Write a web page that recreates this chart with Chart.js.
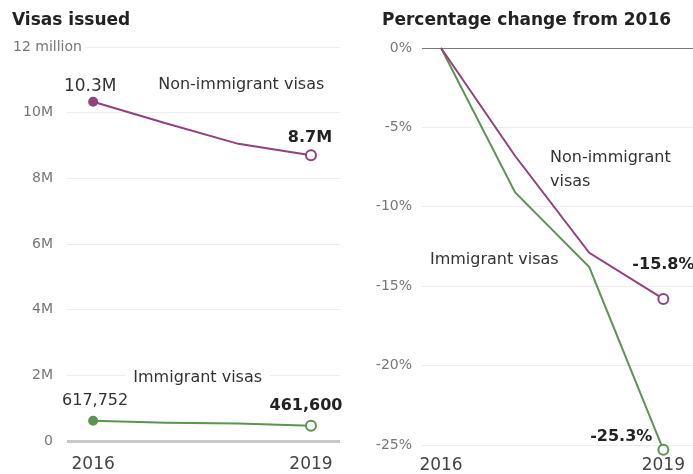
<!DOCTYPE html>
<html lang="en">
  <head>
    <meta charset="UTF-8" />
    <title>Visas issued</title>
    <script src="https://cdn.jsdelivr.net/npm/chart.js@4.4.1/dist/chart.umd.min.js"></script>
    <style>
      body {
        margin: 0;
        background: #ffffff;
        font-family: "DejaVu Sans", sans-serif;
      }
      #wrap {
        position: relative;
        width: 693px;
        height: 474px;
        overflow: hidden;
      }
      .panel {
        position: absolute;
        top: 0;
      }
      .title {
        position: absolute;
        top: 9px;
        font-weight: bold;
        font-size: 17px;
        color: #222;
        white-space: nowrap;
      }
    </style>
  </head>
  <body>
    <div id="wrap">
      <canvas id="leftChart" class="panel" style="left:0" width="345" height="474"></canvas>
      <canvas id="rightChart" class="panel" style="left:350px" width="343" height="474"></canvas>
      <div class="title" style="left:12px">Visas issued</div>
      <div class="title" style="left:382px">Percentage change from 2016</div>
    </div>

    <script>
      // data
      const years = [2016, 2017, 2018, 2019];
      const tickYears = [2016, 2019];
      const nonImmigrantVisas = [10330000, 9680000, 9050000, 8700000];
      const immigrantVisas = [617752, 559500, 533600, 461600];
      const nonImmigrantChange = [0, -6.8, -12.9, -15.8];
      const immigrantChange = [0, -9.1, -13.8, -25.3];

      const purple = "#93407f";
      const green = "#5b9550";
      const font = '"DejaVu Sans", sans-serif';

      const toPoints = (vals) => vals.map((v, i) => ({ x: years[i], y: v }));

      // draws text labels next to the data
      const textLabels = {
        id: "textLabels",
        afterDatasetsDraw(chart, args, opts) {
          const { ctx } = chart;
          const x = chart.scales.x;
          const y = chart.scales.y;
          ctx.save();
          opts.items.forEach((it) => {
            const px = it.px !== undefined ? it.px : x.getPixelForValue(it.x) + (it.dx || 0);
            const py = y.getPixelForValue(it.y) + (it.dy || 0);
            ctx.font = (it.bold ? "bold " : "") + it.size + "px " + font;
            ctx.textAlign = it.align || "center";
            ctx.textBaseline = "middle";
            if (it.bg) {
              const w = ctx.measureText(it.text).width;
              let left = px - w / 2;
              if (ctx.textAlign === "left") left = px;
              if (ctx.textAlign === "right") left = px - w;
              ctx.fillStyle = "#ffffff";
              ctx.fillRect(left - it.bg, py - 9, w + it.bg * 2, 18);
            }
            ctx.fillStyle = it.color || "#333";
            ctx.fillText(it.text, px, py);
          });
          ctx.restore();
        },
      };

      function xScale(min, max, pad, height) {
        return {
          type: "linear",
          min: min,
          max: max,
          grid: { display: false },
          border: { display: false },
          afterBuildTicks: (scale) => {
            scale.ticks = tickYears.map((v) => ({ value: v }));
          },
          afterFit: (scale) => {
            scale.height = height;
            scale.paddingLeft = 0;
            scale.paddingRight = 0;
          },
          ticks: {
            autoSkip: false,
            maxRotation: 0,
            padding: pad,
            color: "#444",
            font: { family: font, size: 17 },
            callback: (v) => String(v),
          },
        };
      }

      function lineSet(vals, color, radii, fills) {
        return {
          data: toPoints(vals),
          borderColor: color,
          borderWidth: 2,
          pointRadius: radii,
          pointHoverRadius: radii,
          pointBorderWidth: 2,
          pointBorderColor: color,
          pointBackgroundColor: fills,
          tension: 0,
          clip: false,
        };
      }

      new Chart(document.getElementById("leftChart"), {
        type: "line",
        data: {
          datasets: [
            lineSet(nonImmigrantVisas, purple, [4, 0, 0, 5], [purple, purple, purple, "#fff"]),
            lineSet(immigrantVisas, green, [4, 0, 0, 5], [green, green, green, "#fff"]),
          ],
        },
        options: {
          responsive: false,
          animation: false,
          events: [],
          layout: { autoPadding: false, padding: { top: 47, right: 5, left: 0, bottom: 0 } },
          plugins: {
            legend: { display: false },
            tooltip: { enabled: false },
            textLabels: {
              items: [
                { text: "12 million", px: 13, y: 12000000, align: "left", size: 14, color: "#777", bg: 3 },
                { text: "10.3M", x: 2016, y: nonImmigrantVisas[0], dx: -3, dy: -15, size: 17, color: "#333" },
                { text: "8.7M", x: 2019, y: nonImmigrantVisas[3], dx: -1, dy: -18, size: 16, bold: true, color: "#222" },
                { text: "Non-immigrant visas", x: 2018.04, y: 10840000, size: 16, color: "#333" },
                { text: "617,752", x: 2016, y: immigrantVisas[0], dx: 2, dy: -20, size: 16, color: "#333" },
                { text: "461,600", x: 2019, y: immigrantVisas[3], dx: -5, dy: -20, size: 16, bold: true, color: "#222" },
                { text: "Immigrant visas", x: 2017.44, y: 1920000, size: 16, color: "#333", bg: 8 },
              ],
            },
          },
          scales: {
            x: xScale(2015.64, 2019.4, 5, 33),
            y: {
              min: 0,
              max: 12000000,
              border: { display: false },
              grid: {
                drawTicks: false,
                color: (c) => (c.tick.value === 0 ? "#c8c8c8" : "#ececec"),
                lineWidth: (c) => (c.tick.value === 0 ? 3 : 1),
              },
              afterFit: (scale) => { scale.width = 67; },
              ticks: {
                stepSize: 2000000,
                padding: 14,
                color: "#777",
                font: { family: font, size: 14 },
                callback: (v) => (v === 0 ? "0" : v === 12000000 ? "" : v / 1000000 + "M"),
              },
            },
          },
        },
        plugins: [textLabels],
      });

      new Chart(document.getElementById("rightChart"), {
        type: "line",
        data: {
          datasets: [
            lineSet(nonImmigrantChange, purple, [0, 0, 0, 5], [purple, purple, purple, "#fff"]),
            lineSet(immigrantChange, green, [0, 0, 0, 5], [green, green, green, "#fff"]),
          ],
        },
        options: {
          responsive: false,
          animation: false,
          events: [],
          layout: { autoPadding: false, padding: { top: 48, right: 0, left: 0, bottom: 0 } },
          plugins: {
            legend: { display: false },
            tooltip: { enabled: false },
            textLabels: {
              items: [
                { text: "Non-immigrant", x: 2017.47, y: -6.93, align: "left", size: 16, color: "#333" },
                { text: "visas", x: 2017.47, y: -8.44, align: "left", size: 16, color: "#333" },
                { text: "Immigrant visas", x: 2015.85, y: -13.35, align: "left", size: 16, color: "#333" },
                { text: "-15.8%", x: 2019, y: nonImmigrantChange[3], dx: -31, dy: -34, align: "left", size: 16, bold: true, color: "#222" },
                { text: "-25.3%", x: 2019, y: immigrantChange[3], dx: -11, dy: -13, align: "right", size: 16, bold: true, color: "#222" },
              ],
            },
          },
          scales: {
            x: xScale(2015.743, 2019.4, 2, 29),
            y: {
              min: -25,
              max: 0,
              border: { display: false },
              grid: {
                drawTicks: false,
                color: (c) => (c.tick.value === 0 ? "#777" : "#ececec"),
                lineWidth: 1,
              },
              afterFit: (scale) => { scale.width = 72; },
              ticks: {
                stepSize: 5,
                padding: 10,
                color: "#777",
                font: { family: font, size: 14 },
                callback: (v) => v + "%",
              },
            },
          },
        },
        plugins: [textLabels],
      });
    </script>
  </body>
</html>
